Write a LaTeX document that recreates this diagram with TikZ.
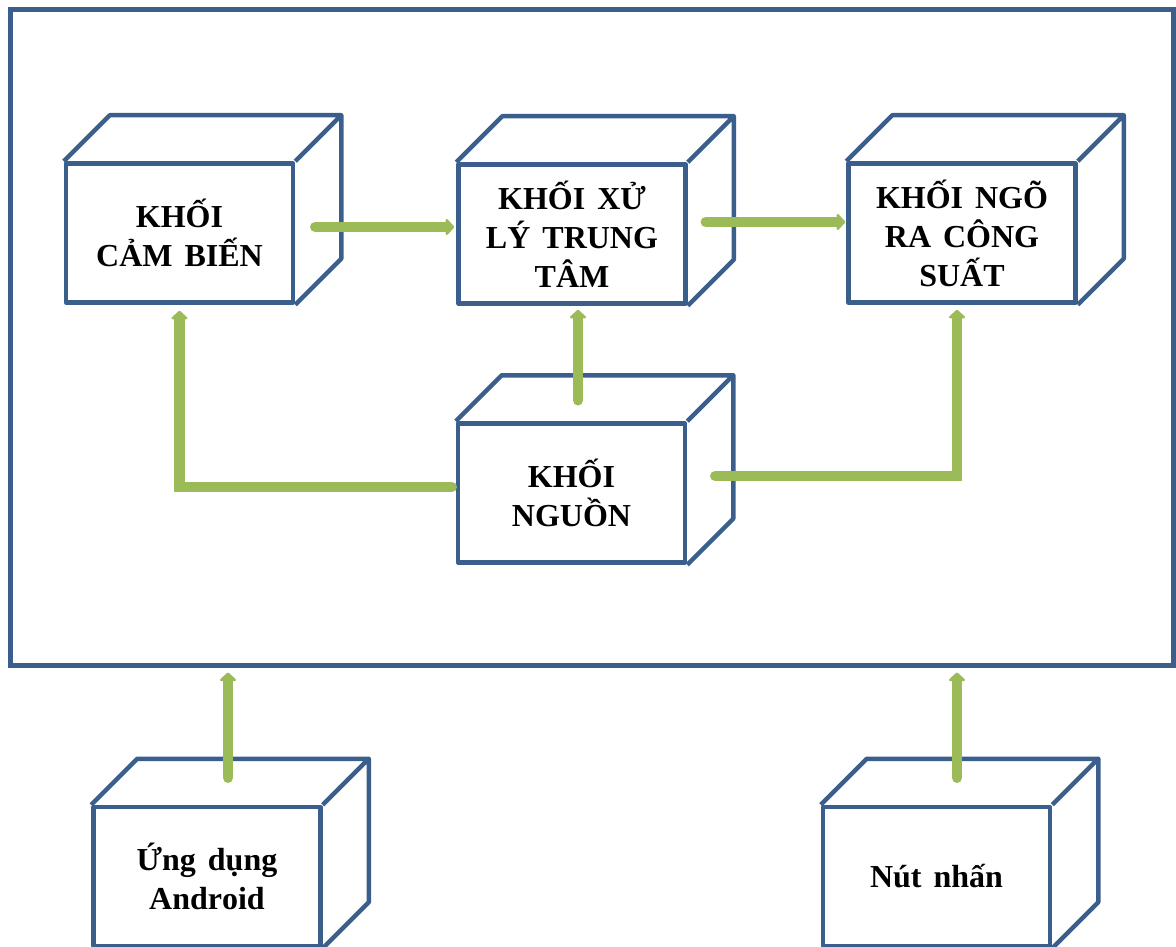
\documentclass[tikz,border=0pt]{standalone}
\usepackage{fontspec}
\setmainfont[Kerning=Off,WordSpace=1.5]{Liberation Serif}
\usetikzlibrary{calc,arrows.meta}
\definecolor{boxblue}{HTML}{3A5F8C}
\definecolor{flowgreen}{HTML}{9BBB59}
\def\cubeback(#1){\draw[cubeline] (#1.north west) -- ++(46pt,46pt) -| ([shift={(46pt,46pt)}]#1.south east) -- (#1.south east) (#1.north east) -- ++(46pt,46pt);}

\begin{document}
\begin{tikzpicture}[x=1pt, y=-1pt,
		cubeline/.style={draw=boxblue, line width=4.5pt, line join=round},
		cube/.style={cubeline, fill=white, minimum width=227pt, minimum height=139pt, inner sep=0pt, align=center, font=\fontsize{32}{39}\selectfont\bfseries},
		frame/.style={draw=boxblue, line width=5pt, minimum width=1163pt, minimum height=655pt, inner sep=0pt},
		flow/.style={draw=flowgreen, line width=10.5pt, line cap=round, -{Triangle[width=19pt,length=9pt,round]}}]
		%%%%% START %%%%%
		
		\useasboundingbox (0,0) rectangle (1176,947);
		
		\node[frame] (frame) at (591.5,337.5) {};
		
		\node[cube] (sensor) at (179.5,233) {KHỐI\\CẢM BIẾN};
		\node[cube] (cpu) at (572,234) {KHỐI XỬ\\LÝ TRUNG\\TÂM};
		\node[cube] (output) at (962,233) {KHỐI NGÕ\\RA CÔNG\\SUẤT};
		\node[cube] (power) at (571.5,493) {KHỐI\\NGUỒN};
		\node[cube] (app) at (207,876.5) {Ứng dụng\\Android};
		\node[cube] (button) at (936.5,876.5) {\raisebox{-3pt}{Nút nhấn}};
		
		\cubeback(sensor)
		\cubeback(cpu)
		\cubeback(output)
		\cubeback(power)
		\cubeback(app)
		\cubeback(button)
		
		\draw[flow] ($(sensor.east)+(20,-6)$) -- ($(cpu.west)+(-2,-7)$);
		\draw[flow] ($(cpu.east)+(18,-12)$) -- ($(output.west)+(-1,-11)$);
		
		\draw[flow] ($(power.north)+(6.5,-21)$) -- ($(cpu.south)+(6,4)$);
		\draw[flow] ($(power.west)+(-4,-6)$) -| ($(sensor.south)+(0,6)$);
		\draw[flow] ($(power.east)+(28,-17)$) -| ($(output.south)+(-5,5)$);
		
		\coordinate (appout) at ($(app.north)+(21,-27)$);
		\coordinate (buttonout) at ($(button.north)+(20.5,-27)$);
		\draw[flow, shorten >=5pt] (appout) -- (appout |- frame.south);
		\draw[flow, shorten >=5pt] (buttonout) -- (buttonout |- frame.south);
		
		%%%%% END %%%%%
\end{tikzpicture}
\end{document}
